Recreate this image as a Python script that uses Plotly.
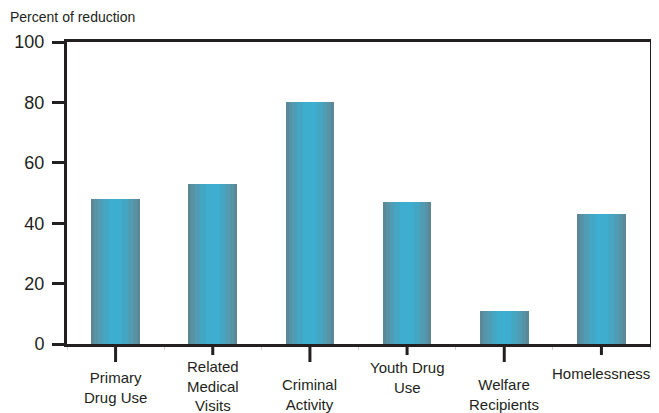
import plotly.graph_objects as go

categories = ["Primary<br>Drug Use", "Related<br>Medical<br>Visits", "Criminal<br>Activity",
              "Youth Drug<br>Use", "Welfare<br>Recipients", "Homelessness"]
cat_keys = ["Primary Drug Use", "Related Medical Visits", "Criminal Activity",
            "Youth Drug Use", "Welfare Recipients", "Homelessness"]
values = [48, 53, 80, 47, 11, 43]
y_ticks = [0, 20, 40, 60, 80, 100]

# styling (layout only)
label_shift = [-43, -42, -50, -33, -50, -29]
tick_len = [18, 11, 18, 11, 18, 11]
stripes = [(0.50, "#5b8899"), (0.44, "#5892a5"), (0.36, "#4f9cb4"),
           (0.26, "#45a6c3"), (0.14, "#3daed0")]

FONT = "Liberation Sans, Arial, sans-serif"
INK = "#231f20"

fig = go.Figure()
for w, c in stripes:
    fig.add_trace(go.Bar(x=cat_keys, y=values, width=w, marker=dict(color=c, line=dict(width=0)),
                         hoverinfo="skip", showlegend=False))

for k, lab, sh in zip(cat_keys, categories, label_shift):
    fig.add_annotation(x=k, xref="x", y=0, yref="paper", yanchor="middle", yshift=sh,
                       text=lab, showarrow=False, font=dict(family=FONT, size=15, color=INK))

for k, L in zip(cat_keys, tick_len):
    fig.add_shape(type="line", xref="x", yref="paper", x0=k, x1=k, ysizemode="pixel",
                  yanchor=0, y0=0, y1=-L, line=dict(color=INK, width=3))

fig.add_annotation(x=0, xref="paper", xshift=-59, xanchor="left", y=1, yref="paper",
                   yshift=25, yanchor="middle", text="Percent of reduction", showarrow=False,
                   font=dict(family=FONT, size=14, color=INK))

fig.update_layout(
    width=651, height=405, barmode="overlay", bargap=0,
    margin=dict(l=57, r=6, t=34, b=69),
    paper_bgcolor="white", plot_bgcolor="white",
    font=dict(family=FONT, color=INK),
    xaxis=dict(type="category", range=[-0.5, 5.5], showticklabels=False,
               showline=True, linecolor=INK, linewidth=3, mirror=True,
               ticks="outside", tickson="boundaries", ticklen=3, tickcolor="#cccccc", tickwidth=1,
               showgrid=False, zeroline=False),
    yaxis=dict(range=[0, 100], tickvals=y_ticks, ticks="outside", ticklen=12, tickwidth=3,
               tickcolor=INK, showline=True, linecolor=INK, linewidth=3, mirror=True,
               tickfont=dict(family=FONT, size=18, color=INK), showgrid=False, zeroline=False,
               ticklabelstandoff=4),
)

fig.write_html("out.html")
